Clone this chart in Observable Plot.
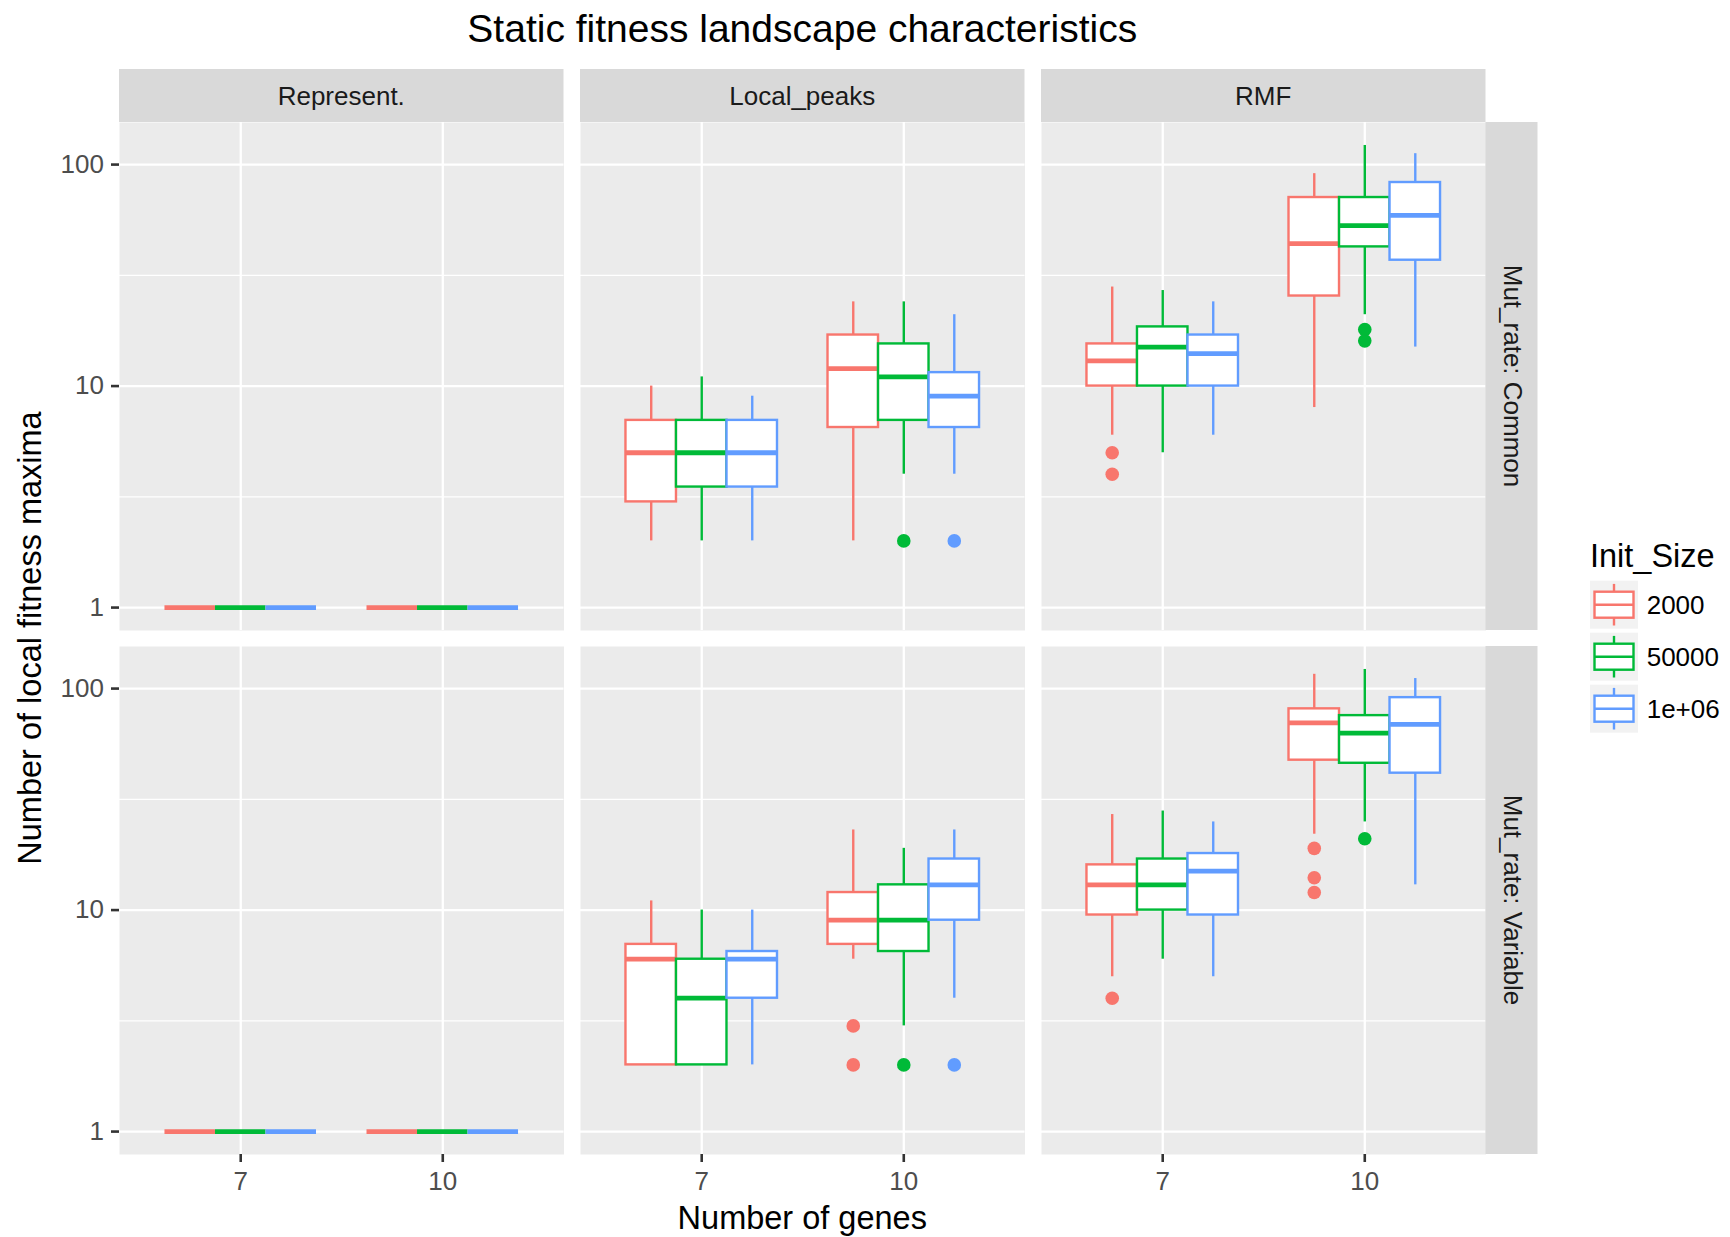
<!DOCTYPE html>
<html>
<head>
<meta charset="utf-8">
<script src="https://cdn.jsdelivr.net/npm/d3@7"></script>
<script src="https://cdn.jsdelivr.net/npm/@observablehq/plot@0.6"></script>
<style>
  html, body { margin: 0; padding: 0; background: #fff; overflow: hidden; }
  #chart { position: relative; width: 1730px; height: 1237px; font-family: "Liberation Sans", Arial, Helvetica, sans-serif; }
  #chart > svg { position: absolute; left: 0; top: 0; }
</style>
</head>
<body>
<div id="chart"></div>
<script>
// ---------------- data ----------------
const landscapes = ["Represent.", "Local_peaks", "RMF"];
const mutRates = ["Common", "Variable"];
const mutRateLabels = ["Mut_rate: Common", "Mut_rate: Variable"];
const genes = ["7", "10"];
const initSizes = ["2000", "50000", "1e+06"];
const sizeColors = ["#F8766D", "#00BA38", "#619CFF"];
const yTicks = [1, 10, 100];

// order: mutRate > landscape > genes > initSize (2000, 50000, 1e+06)
const whiskerLow = [
  // Common
  1, 1, 1,   1, 1, 1,          // Represent. 7 | 10
  2, 2, 2,   2, 4, 4,          // Local_peaks 7 | 10
  6, 5, 6,   8, 21, 15,        // RMF 7 | 10
  // Variable
  1, 1, 1,   1, 1, 1,
  2, 2, 2,   6, 3, 4,
  5, 6, 5,   22, 25, 13
];
const q1 = [
  1, 1, 1,   1, 1, 1,
  3, 3.5, 3.5,   6.5, 7, 6.5,
  10, 10, 10,   25.5, 42.5, 37,
  1, 1, 1,   1, 1, 1,
  2, 2, 4,   7, 6.5, 9,
  9.5, 10, 9.5,   47.5, 46, 41.5
];
const median = [
  1, 1, 1,   1, 1, 1,
  5, 5, 5,   12, 11, 9,
  13, 15, 14,   44, 53, 59,
  1, 1, 1,   1, 1, 1,
  6, 4, 6,   9, 9, 13,
  13, 13, 15,   70, 63, 69
];
const q3 = [
  1, 1, 1,   1, 1, 1,
  7, 7, 7,   17, 15.5, 11.5,
  15.5, 18.5, 17,   71, 71, 83,
  1, 1, 1,   1, 1, 1,
  7, 6, 6.5,   12, 13, 17,
  16, 17, 18,   81, 75.5, 91
];
const whiskerHigh = [
  1, 1, 1,   1, 1, 1,
  10, 11, 9,   24, 24, 21,
  28, 27, 24,   91, 122, 112,
  1, 1, 1,   1, 1, 1,
  11, 10, 10,   23, 19, 23,
  27, 28, 25,   116, 122, 111
];
// [mutRate, landscape, genes, initSize, value]
const outlierList = [
  ["Common", "Local_peaks", "10", "50000", 2],
  ["Common", "Local_peaks", "10", "1e+06", 2],
  ["Common", "RMF", "7", "2000", 5],
  ["Common", "RMF", "7", "2000", 4],
  ["Common", "RMF", "10", "50000", 18],
  ["Common", "RMF", "10", "50000", 16],
  ["Variable", "Local_peaks", "10", "2000", 3],
  ["Variable", "Local_peaks", "10", "2000", 2],
  ["Variable", "Local_peaks", "10", "50000", 2],
  ["Variable", "Local_peaks", "10", "1e+06", 2],
  ["Variable", "RMF", "7", "2000", 4],
  ["Variable", "RMF", "10", "2000", 19],
  ["Variable", "RMF", "10", "2000", 14],
  ["Variable", "RMF", "10", "2000", 12],
  ["Variable", "RMF", "10", "50000", 21]
];

// ---------------- build tables ----------------
const dodge = 0.25, halfBox = 0.125;
const posOf = (g, s) => genes.indexOf(g) + 1 + (initSizes.indexOf(s) - 1) * dodge;
const boxes = [];
let k = 0;
for (const mr of mutRates) for (const ls of landscapes) for (const g of genes) for (const s of initSizes) {
  boxes.push({mutRate: mr, landscape: ls, genes: g, size: s, pos: posOf(g, s),
    lo: whiskerLow[k], q1: q1[k], med: median[k], q3: q3[k], hi: whiskerHigh[k]});
  k++;
}
const outliers = outlierList.map(([mr, ls, g, s, v]) => ({mutRate: mr, landscape: ls, genes: g, size: s, pos: posOf(g, s), value: v}));

// ---------------- layout ----------------
const W = 1730, H = 1237;
const L = 119, R = 1485.5, T = 122, B = 1154;
const gapX = 16.5, gapY = 16;
const panelW = (R - L - 2 * gapX) / 3, panelH = (B - T - gapY) / 2;
const font = '"Liberation Sans", Arial, Helvetica, sans-serif';
const lw = 2.4;

const fc = {fx: "landscape", fy: "mutRate"};
const boxMarks = initSizes.flatMap(s => {
  const d = boxes.filter(b => b.size === s);
  const o = outliers.filter(b => b.size === s);
  return [
    Plot.dot(o, {...fc, x: "pos", y: "value", fill: "size", r: 6.8, stroke: "none"}),
    Plot.ruleX(d, {...fc, x: "pos", y1: "q3", y2: "hi", stroke: "size", strokeWidth: lw}),
    Plot.ruleX(d, {...fc, x: "pos", y1: "lo", y2: "q1", stroke: "size", strokeWidth: lw}),
    Plot.rect(d, {...fc, x1: b => b.pos - halfBox, x2: b => b.pos + halfBox, y1: "q1", y2: "q3",
      fill: "white", stroke: "size", strokeWidth: lw}),
    Plot.ruleY(d, {...fc, x1: b => b.pos - halfBox, x2: b => b.pos + halfBox, y: "med", stroke: "size", strokeWidth: 2 * lw})
  ];
});

const chart = Plot.plot({
  width: W, height: H,
  marginLeft: L, marginRight: W - R, marginTop: T, marginBottom: H - B,
  facet: {marginTop: 0, marginRight: 0, marginBottom: 0, marginLeft: 0},
  fx: {domain: landscapes, paddingInner: gapX / (panelW + gapX), paddingOuter: 0, round: false, axis: null, label: null},
  fy: {domain: mutRates, paddingInner: gapY / (panelH + gapY), paddingOuter: 0, round: false, axis: null, label: null},
  x: {type: "linear", domain: [0.4, 2.6]},
  y: {type: "log", domain: [Math.pow(10, -0.1035), Math.pow(10, 2.19)]},
  color: {domain: initSizes, range: sizeColors},
  style: {fontFamily: font, fontSize: "26px", background: "white", overflow: "visible"},
  marks: [
    Plot.frame({fill: "#EBEBEB", stroke: "none"}),
    Plot.gridY({ticks: [Math.sqrt(10), Math.sqrt(1000)], stroke: "white", strokeOpacity: 1, strokeWidth: 1.2}),
    Plot.gridY({ticks: yTicks, stroke: "white", strokeOpacity: 1, strokeWidth: 2.3}),
    Plot.gridX({ticks: [1, 2], stroke: "white", strokeOpacity: 1, strokeWidth: 2.3}),
    ...boxMarks,
    Plot.axisY({ticks: yTicks, tickFormat: d => String(d), tickSize: 8, tickPadding: 7.5, fontSize: 26,
      fill: "#4D4D4D", stroke: "#333333", strokeWidth: 2.6, label: null}),
    Plot.axisX({ticks: [1, 2], tickFormat: d => genes[d - 1], tickSize: 8, tickPadding: 9, fontSize: 26,
      fill: "#4D4D4D", stroke: "#333333", strokeWidth: 2.6, label: null})
  ]
});
document.getElementById("chart").appendChild(chart);

// ---------------- overlay: titles, strips, legend ----------------
const ov = d3.select("#chart").append("svg")
  .attr("width", W).attr("height", H)
  .style("pointer-events", "none")
  .style("font-family", font);

ov.append("text").attr("x", (L + R) / 2).attr("y", 42.3).attr("text-anchor", "middle")
  .attr("font-size", 39).attr("fill", "#000").text("Static fitness landscape characteristics");

ov.append("text").attr("x", (L + R) / 2).attr("y", 1229).attr("text-anchor", "middle")
  .attr("font-size", 32.5).attr("fill", "#000").text("Number of genes");

ov.append("text").attr("transform", `translate(41,${(T + B) / 2}) rotate(-90)`).attr("text-anchor", "middle")
  .attr("font-size", 32.5).attr("fill", "#000").text("Number of local fitness maxima");

// top strips
landscapes.forEach((ls, i) => {
  const x0 = L + i * (panelW + gapX);
  ov.append("rect").attr("x", x0).attr("y", 69).attr("width", panelW).attr("height", T - 69).attr("fill", "#D9D9D9");
  ov.append("text").attr("x", x0 + panelW / 2).attr("y", 105).attr("text-anchor", "middle")
    .attr("font-size", 26).attr("fill", "#1A1A1A").text(ls);
});
// right strips
mutRateLabels.forEach((lab, j) => {
  const y0 = T + j * (panelH + gapY);
  ov.append("rect").attr("x", R).attr("y", y0).attr("width", 52).attr("height", panelH).attr("fill", "#D9D9D9");
  ov.append("text").attr("transform", `translate(1504,${y0 + panelH / 2}) rotate(90)`).attr("text-anchor", "middle")
    .attr("font-size", 26).attr("fill", "#1A1A1A").text(lab);
});

// legend
const lg = ov.append("g");
lg.append("text").attr("x", 1590).attr("y", 566.7).attr("font-size", 32.5).attr("fill", "#000").text("Init_Size");
initSizes.forEach((s, i) => {
  const top = 578.7 + i * 52, left = 1588, sz = 52;
  lg.append("rect").attr("x", left + 2).attr("y", top + 2).attr("width", sz - 4).attr("height", sz - 4).attr("fill", "#F2F2F2");
  const c = sizeColors[i], cx = left + sz / 2;
  lg.append("line").attr("x1", cx).attr("x2", cx).attr("y1", top + 0.1 * sz).attr("y2", top + 0.25 * sz).attr("stroke", c).attr("stroke-width", lw);
  lg.append("line").attr("x1", cx).attr("x2", cx).attr("y1", top + 0.75 * sz).attr("y2", top + 0.9 * sz).attr("stroke", c).attr("stroke-width", lw);
  lg.append("rect").attr("x", left + 0.125 * sz).attr("y", top + 0.25 * sz).attr("width", 0.75 * sz).attr("height", 0.5 * sz)
    .attr("fill", "white").attr("stroke", c).attr("stroke-width", lw);
  lg.append("line").attr("x1", left + 0.125 * sz).attr("x2", left + 0.875 * sz).attr("y1", top + sz / 2).attr("y2", top + sz / 2).attr("stroke", c).attr("stroke-width", lw);
  lg.append("text").attr("x", 1646.7).attr("y", top + sz / 2 + 9.3).attr("font-size", 26).attr("fill", "#000").text(s);
});
</script>
</body>
</html>
